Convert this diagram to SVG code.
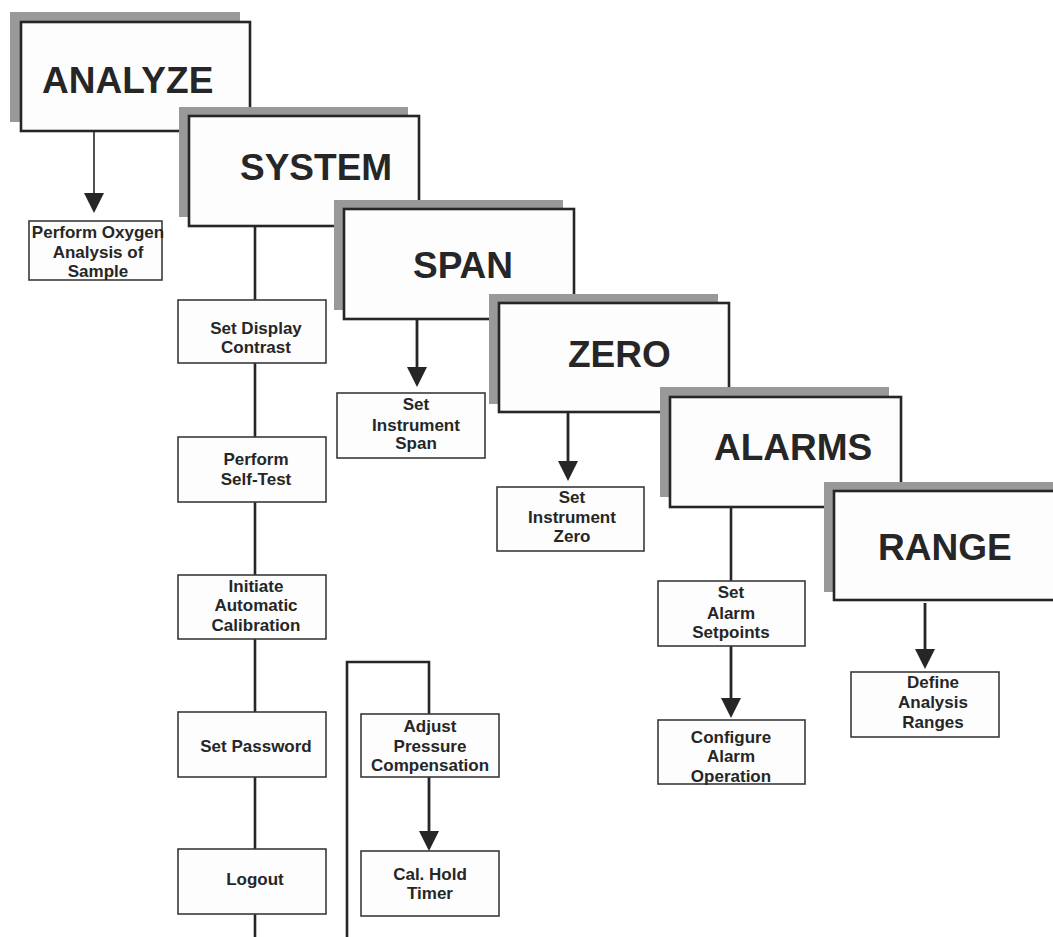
<svg xmlns="http://www.w3.org/2000/svg" width="1053" height="937" viewBox="0 0 1053 937">
<style>
.sh{fill:#999999;stroke:none}
.big{fill:#fdfdfd;stroke:#262626;stroke-width:2.6}
.sm{fill:#fdfdfd;stroke:#3a3a3a;stroke-width:1.6}
.t1{font-family:"Liberation Sans",Arial,sans-serif;font-weight:bold;font-size:37px;fill:#262626}
.t2{font-family:"Liberation Sans",Arial,sans-serif;font-weight:bold;font-size:17px;fill:#262626;text-anchor:middle}
.ln{fill:none;stroke:#262626;stroke-width:2.6}
.ar{fill:none;stroke:#262626;stroke-width:2.8;marker-end:url(#ah)}
</style>
<defs>
<marker id="ah" viewBox="0 0 20 20" refX="10" refY="10" markerWidth="20" markerHeight="20" markerUnits="userSpaceOnUse" orient="auto">
<path d="M0,0 L20,10 L0,20 z" fill="#262626"/>
</marker>
</defs>
<rect width="1053" height="937" fill="#ffffff"/>
<g id="connectors">
<path class="ar" d="M94,131 V203" style="stroke-width:1.6"/>
<path class="ln" d="M255,226 V937"/>
<path class="ln" d="M347,937 V662 H429 V714"/>
<path class="ar" d="M429,777 V841"/>
<path class="ar" d="M417,319 V377"/>
<path class="ar" d="M568,412 V471"/>
<path class="ln" d="M731,507 V581"/>
<path class="ar" d="M731,646 V708"/>
<path class="ar" d="M925,603 V659"/>
</g>
<g id="analyze">
<rect class="sh" x="10" y="12" width="230" height="110"/>
<rect class="big" x="21" y="22" width="229" height="109"/>
<text class="t1" x="42" y="93">ANALYZE</text>
</g>
<g id="oxygen">
<rect class="sm" x="29" y="221" width="133" height="59"/>
<text class="t2" x="98" y="238">Perform Oxygen</text>
<text class="t2" x="98" y="258">Analysis of</text>
<text class="t2" x="98" y="277">Sample</text>
</g>
<g id="system">
<rect class="sh" x="179" y="107" width="229" height="110"/>
<rect class="big" x="189" y="116" width="230" height="110"/>
<text class="t1" x="240" y="180">SYSTEM</text>
</g>
<g id="display">
<rect class="sm" x="178" y="300" width="148" height="63"/>
<text class="t2" x="256" y="334">Set Display</text>
<text class="t2" x="256" y="353">Contrast</text>
</g>
<g id="selftest">
<rect class="sm" x="178" y="437" width="148" height="65"/>
<text class="t2" x="256" y="465">Perform</text>
<text class="t2" x="256" y="485">Self-Test</text>
</g>
<g id="autocal">
<rect class="sm" x="178" y="575" width="148" height="64"/>
<text class="t2" x="256" y="592">Initiate</text>
<text class="t2" x="256" y="611">Automatic</text>
<text class="t2" x="256" y="631">Calibration</text>
</g>
<g id="password">
<rect class="sm" x="178" y="712" width="148" height="65"/>
<text class="t2" x="256" y="752">Set Password</text>
</g>
<g id="logout">
<rect class="sm" x="178" y="849" width="148" height="65"/>
<text class="t2" x="255" y="885">Logout</text>
</g>
<g id="pressure">
<rect class="sm" x="361" y="714" width="138" height="63"/>
<text class="t2" x="430" y="732">Adjust</text>
<text class="t2" x="430" y="752">Pressure</text>
<text class="t2" x="430" y="771">Compensation</text>
</g>
<g id="calhold">
<rect class="sm" x="361" y="851" width="138" height="65"/>
<text class="t2" x="430" y="880">Cal. Hold</text>
<text class="t2" x="430" y="899">Timer</text>
</g>
<g id="span">
<rect class="sh" x="334" y="200" width="229" height="110"/>
<rect class="big" x="344" y="209" width="230" height="110"/>
<text class="t1" x="413" y="278">SPAN</text>
</g>
<g id="instspan">
<rect class="sm" x="337" y="393" width="148" height="65"/>
<text class="t2" x="416" y="410">Set</text>
<text class="t2" x="416" y="431">Instrument</text>
<text class="t2" x="416" y="449">Span</text>
</g>
<g id="zero">
<rect class="sh" x="489" y="294" width="229" height="110"/>
<rect class="big" x="499" y="303" width="230" height="109"/>
<text class="t1" x="568" y="367">ZERO</text>
</g>
<g id="instzero">
<rect class="sm" x="497" y="487" width="147" height="64"/>
<text class="t2" x="572" y="503">Set</text>
<text class="t2" x="572" y="523">Instrument</text>
<text class="t2" x="572" y="542">Zero</text>
</g>
<g id="alarms">
<rect class="sh" x="660" y="387" width="229" height="110"/>
<rect class="big" x="670" y="397" width="231" height="110"/>
<text class="t1" x="714" y="460">ALARMS</text>
</g>
<g id="setpoints">
<rect class="sm" x="658" y="581" width="147" height="65"/>
<text class="t2" x="731" y="598">Set</text>
<text class="t2" x="731" y="619">Alarm</text>
<text class="t2" x="731" y="638">Setpoints</text>
</g>
<g id="alarmop">
<rect class="sm" x="658" y="720" width="147" height="64"/>
<text class="t2" x="731" y="743">Configure</text>
<text class="t2" x="731" y="762">Alarm</text>
<text class="t2" x="731" y="782">Operation</text>
</g>
<g id="range">
<rect class="sh" x="824" y="482" width="240" height="110"/>
<rect class="big" x="834" y="491" width="240" height="109"/>
<text class="t1" x="878" y="560">RANGE</text>
</g>
<g id="ranges">
<rect class="sm" x="851" y="672" width="148" height="65"/>
<text class="t2" x="933" y="688">Define</text>
<text class="t2" x="933" y="708">Analysis</text>
<text class="t2" x="933" y="728">Ranges</text>
</g>
</svg>
